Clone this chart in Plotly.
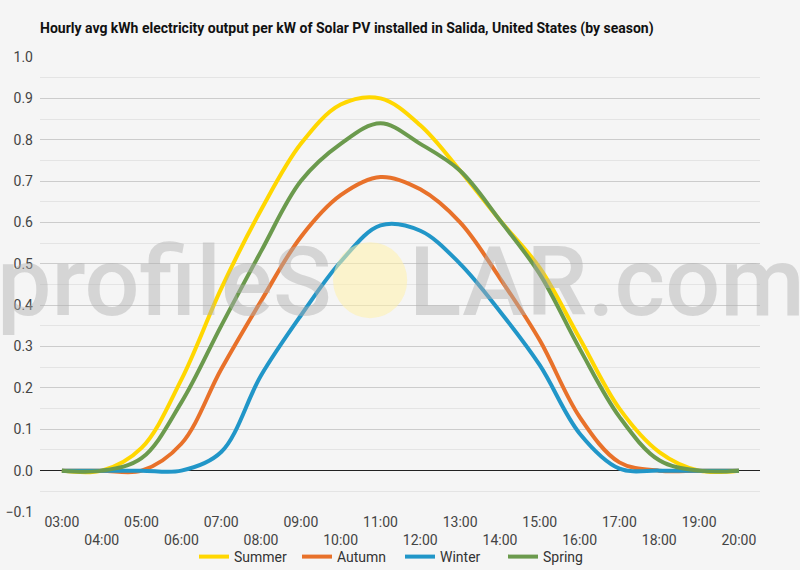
import plotly.graph_objects as go

hours = list(range(3, 21))
hour_labels = ["03:00", "04:00", "05:00", "06:00", "07:00", "08:00", "09:00", "10:00", "11:00",
               "12:00", "13:00", "14:00", "15:00", "16:00", "17:00", "18:00", "19:00", "20:00"]

summer = [0.0, 0.0, 0.055, 0.22, 0.44, 0.63, 0.79, 0.885, 0.90, 0.835, 0.725, 0.605, 0.49, 0.32, 0.15, 0.045, 0.0, 0.0]
autumn = [0.0, 0.0, 0.0, 0.065, 0.245, 0.41, 0.565, 0.666, 0.71, 0.68, 0.60, 0.465, 0.315, 0.13, 0.02, 0.0, 0.0, 0.0]
winter = [0.0, 0.0, 0.0, 0.0, 0.045, 0.23, 0.375, 0.505, 0.593, 0.58, 0.50, 0.385, 0.255, 0.09, 0.005, 0.0, 0.0, 0.0]
spring = [0.0, 0.0, 0.03, 0.165, 0.35, 0.53, 0.70, 0.79, 0.84, 0.79, 0.725, 0.605, 0.475, 0.295, 0.13, 0.025, 0.0, 0.0]

series = [("Summer", summer, "#FFD700"),
          ("Autumn", autumn, "#E8712A"),
          ("Winter", winter, "#2196C8"),
          ("Spring", spring, "#6B9A4D")]

# odd hours on the first row, even hours on the second
tick_text = [lab if i % 2 == 0 else "<br>" + lab for i, lab in enumerate(hour_labels)]

fig = go.Figure()
for name, vals, col in series:
    fig.add_trace(go.Scatter(x=hours, y=vals, name=name, mode="lines",
                             line=dict(color=col, width=4, shape="spline")))

bg = "#f5f5f5"
fig.update_layout(
    width=800, height=570,
    paper_bgcolor=bg, plot_bgcolor=bg,
    margin=dict(l=40, r=40, t=57, b=58, autoexpand=False),
    font=dict(family="Roboto", size=14, color="#444444"),
    title=dict(text="<b>Hourly avg kWh electricity output per kW of Solar PV installed in Salida, United States (by season)</b>",
               x=40 / 800, xanchor="left", y=1 - 28 / 570, yanchor="middle",
               font=dict(family="Roboto", size=14, color="#111111")),
    legend=dict(orientation="h", x=0.5, xanchor="center", yref="container", y=1 - 557 / 570,
                yanchor="middle", itemwidth=30, entrywidth=58, font=dict(size=14, color="#333333"),
                bgcolor="rgba(0,0,0,0)"),
    showlegend=True,
)

fig.update_xaxes(range=[2.45, 20.53], tickmode="array", tickvals=hours, ticktext=tick_text,
                 showgrid=False, zeroline=False, showline=False, ticks="", automargin=False,
                 tickfont=dict(size=14, color="#444444"))
fig.update_yaxes(range=[-0.1, 1.0], dtick=0.1, tickformat=".1f", showgrid=True, gridcolor="#cccccc",
                 gridwidth=1, zeroline=True, zerolinecolor="#222222", zerolinewidth=1,
                 minor=dict(dtick=0.05, showgrid=True, gridcolor="#e4e4e4", gridwidth=1),
                 ticks="", ticklabelstandoff=6, automargin=False,
                 tickfont=dict(size=14, color="#444444"))

# profileSOLAR watermark
fig.add_shape(type="circle", xref="paper", yref="paper", x0=0.407, x1=0.51, y0=0.426, y1=0.593,
              fillcolor="rgba(255,240,170,0.55)", line=dict(width=0), layer="above")
wm_font = dict(family="Roboto", size=97, weight=500, color="rgba(175,175,175,0.45)")
fig.add_annotation(text="profileS", xref="paper", yref="paper", x=(334 - 40) / 720, y=(512 - 282) / 455,
                   xanchor="right", yanchor="middle", showarrow=False, font=wm_font)
fig.add_annotation(text="LAR.com", xref="paper", yref="paper", x=(407 - 40) / 720, y=(512 - 282) / 455,
                   xanchor="left", yanchor="middle", showarrow=False, font=wm_font)

# page body has a default margin; drop it so the figure fills the window
fig.write_html("out.html", config={"displayModeBar": False},
               post_script="document.body.style.margin='0';document.body.style.background='#f5f5f5';")
